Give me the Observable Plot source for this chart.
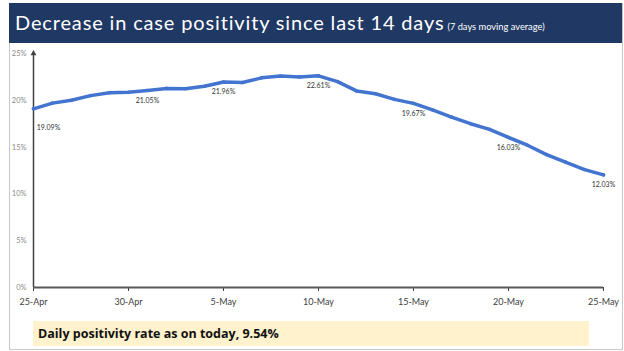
<!DOCTYPE html>
<html><head><meta charset="utf-8">
<script src="https://cdn.jsdelivr.net/npm/d3@7"></script>
<script src="https://cdn.jsdelivr.net/npm/@observablehq/plot@0.6"></script>
<style>
html,body{margin:0;padding:0;background:#fff;}
body{width:624px;height:351px;overflow:hidden;position:relative;font-family:Lato,"Open Sans",sans-serif;}
#frame{position:absolute;left:9px;top:3px;width:612px;height:346px;border-left:1px solid #c8c8c8;border-right:1px solid #c8c8c8;border-bottom:1px solid #c8c8c8;}
#title{position:absolute;left:9px;top:3px;width:613px;height:40px;background:#1f3864;color:#fff;box-sizing:border-box;padding:9px 0 0 6px;font-size:20px;line-height:20px;white-space:nowrap;letter-spacing:0.85px;}
#title small{font-size:9.3px;margin-left:3px;letter-spacing:0;}
#chart{position:absolute;left:0;top:44px;}
#note{position:absolute;left:33px;top:321px;width:556px;height:25px;background:#fff2cc;box-sizing:border-box;padding:5px 0 0 5px;font-family:"Open Sans",sans-serif;font-weight:bold;font-size:12.5px;line-height:15px;color:#111;white-space:nowrap;}
</style></head>
<body>
<div id="frame"></div>
<div id="title">Decrease in case positivity since last 14 days<small>(7 days moving average)</small></div>
<div id="chart"></div>
<div id="note">Daily positivity rate as on today, 9.54%</div>
<script>
const days = ["2021-04-25","2021-04-26","2021-04-27","2021-04-28","2021-04-29","2021-04-30",
  "2021-05-01","2021-05-02","2021-05-03","2021-05-04","2021-05-05","2021-05-06","2021-05-07",
  "2021-05-08","2021-05-09","2021-05-10","2021-05-11","2021-05-12","2021-05-13","2021-05-14",
  "2021-05-15","2021-05-16","2021-05-17","2021-05-18","2021-05-19","2021-05-20","2021-05-21",
  "2021-05-22","2021-05-23","2021-05-24","2021-05-25"];
const positivity = [19.09,19.7,20.0,20.5,20.8,20.85,21.05,21.27,21.24,21.5,21.96,21.9,22.4,
  22.6,22.5,22.61,22.0,21.0,20.7,20.1,19.67,18.97,18.2,17.5,16.9,16.03,15.2,14.2,13.4,12.6,12.03];
const labelDays = ["2021-04-25","2021-05-01","2021-05-05","2021-05-10","2021-05-15","2021-05-20","2021-05-25"];
const xTickDays = ["2021-04-25","2021-04-30","2021-05-05","2021-05-10","2021-05-15","2021-05-20","2021-05-25"];
const yTicks = [0,5,10,15,20,25];

const data = days.map((d,i) => ({date: new Date(d), value: positivity[i]}));
const labelData = labelDays.map(d => data.find(p => +p.date === +new Date(d)));
const firstLabel = labelData.slice(0,1);
const otherLabels = labelData.slice(1);
const xTicks = xTickDays.map(d => new Date(d));
const x0 = data[0].date, x1 = data[data.length-1].date;
const fmtX = d3.utcFormat("%-d-%b");
const lineColor = "#4274d0";

const chart = Plot.plot({
  width: 624, height: 275,
  marginLeft: 33, marginRight: 21, marginTop: 9, marginBottom: 32,
  style: {fontFamily: "Lato, 'Open Sans', sans-serif", background: "transparent", overflow: "visible"},
  x: {type: "utc", domain: [x0, x1]},
  y: {domain: [0, 25]},
  marks: [
    Plot.axisY({ticks: yTicks, tickSize: 0, tickPadding: 7, fontSize: 7.5, color: "#8a8a8a", tickFormat: d => d + "%", label: null}),
    Plot.axisX({ticks: xTicks, tickSize: 4, tickPadding: 7, fontSize: 9, color: "#404040", tickFormat: fmtX, label: null}),
    Plot.ruleX([x0], {y1: 0, y2: 25, stroke: "#404040", strokeWidth: 1.5}),
    Plot.dot([x0], {x: d => d, y: 25, symbol: "triangle", r: 2.2, fill: "#404040", stroke: null}),
    Plot.ruleY([0], {x1: x0, x2: x1, stroke: "#595959", strokeWidth: 2}),
    Plot.lineY(data, {x: "date", y: "value", stroke: lineColor, strokeWidth: 3.5}),
    Plot.dot(data, {x: "date", y: "value", r: 1.8, fill: lineColor, stroke: null}),
    Plot.text(firstLabel, {x: "date", y: "value", text: d => d.value.toFixed(2) + "%", dx: 15, dy: 19, fontSize: 7, fill: "#333"}),
    Plot.text(otherLabels, {x: "date", y: "value", text: d => d.value.toFixed(2) + "%", dy: 10, fontSize: 7, fill: "#333"})
  ]
});
document.getElementById("chart").appendChild(chart);
</script>
</body></html>
